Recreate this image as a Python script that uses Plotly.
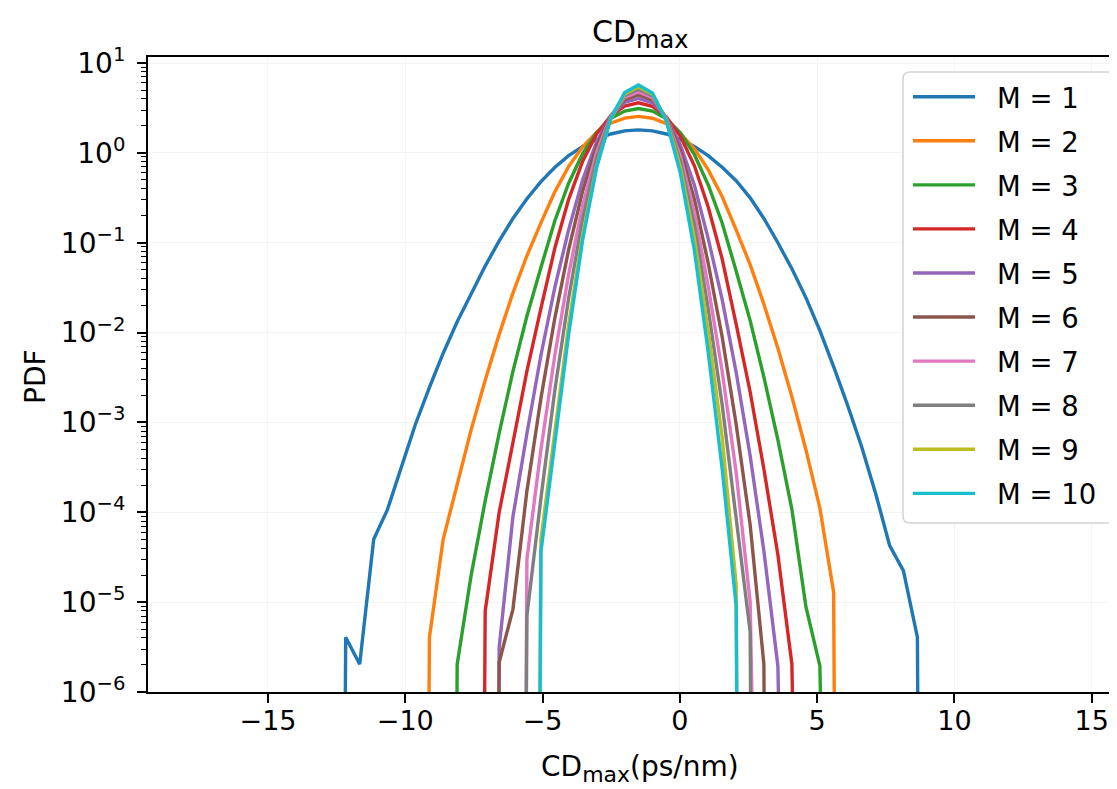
import plotly.graph_objects as go

# bin centres (ps/nm)
x_bins = [-12.68, -12.17, -11.66, -11.15, -10.65, -10.14, -9.63, -9.12, -8.62, -8.11,
          -7.60, -7.09, -6.58, -6.08, -5.57, -5.06, -4.55, -4.05, -3.54, -3.03,
          -2.52, -2.01, -1.51, -1.00, -0.49, 0.02, 0.53, 1.03, 1.54, 2.05,
          2.56, 3.06, 3.57, 4.08, 4.59, 5.10, 5.60, 6.11, 6.62, 7.13,
          7.64, 8.14, 8.65, 9.16]

pdf_m1 = [0, 4.07e-6, 2.04e-6, 5.01e-5, 1.07e-4, 3.31e-4, 9.55e-4, 2.45e-3, 5.89e-3, 1.32e-2,
          2.75e-2, 5.50e-2, 0.105, 0.186, 0.309, 0.479, 0.692, 0.933, 1.175, 1.413,
          1.622, 1.758, 1.803, 1.758, 1.622, 1.413, 1.175, 0.933, 0.692, 0.490,
          0.316, 0.186, 0.100, 5.13e-2, 2.45e-2, 1.05e-2, 4.17e-3, 1.55e-3, 5.37e-4, 1.62e-4,
          4.27e-5, 2.24e-5, 4.07e-6, 0]
pdf_m2 = [0] * 7 + [4.07e-6, 5.01e-5, 2.04e-4, 8.32e-4, 2.95e-3, 9.55e-3, 2.75e-2, 7.16e-2, 0.166, 0.371,
                    0.705, 1.17, 1.69, 2.14, 2.44, 2.55, 2.43, 2.12, 1.64, 1.11,
                    0.650, 0.327, 0.139, 5.70e-2, 2.07e-2, 6.70e-3, 1.93e-3, 4.97e-4, 1.11e-4, 1.29e-5] + [0] * 7
pdf_m3 = [0] * 9 + [2.04e-6, 2.00e-5, 1.34e-4, 7.62e-4, 3.70e-3, 1.53e-2, 5.30e-2, 0.177, 0.460, 0.979,
                    1.69, 2.41, 2.92, 3.12, 2.92, 2.39, 1.67, 0.955, 0.442, 0.166,
                    4.85e-2, 1.36e-2, 3.20e-3, 6.38e-4, 1.08e-4, 8.91e-6, 1.95e-6] + [0] * 8
pdf_m4 = [0] * 11 + [7.94e-6, 1.0e-4, 5.94e-4, 3.72e-3, 1.86e-2, 8.79e-2, 0.304, 0.807, 1.63, 2.58,
                     3.32, 3.61, 3.30, 2.51, 1.53, 0.718, 0.251, 6.61e-2, 1.24e-2, 2.18e-3,
                     3.03e-4, 3.36e-5, 2.04e-6] + [0] * 10
pdf_m5 = [0] * 12 + [3.16e-6, 8.91e-5, 7.52e-4, 5.60e-3, 3.22e-2, 0.140, 0.501, 1.33, 2.55, 3.64,
                     4.03, 3.61, 2.48, 1.23, 0.436, 0.112, 2.34e-2, 3.62e-3, 4.25e-4, 3.70e-5,
                     1.95e-6] + [0] * 11
pdf_m6 = [0] * 12 + [2.14e-6, 8.32e-6, 1.73e-4, 1.86e-3, 1.47e-2, 8.38e-2, 0.376, 1.19, 2.58, 3.92,
                     4.42, 3.88, 2.46, 1.06, 0.304, 5.94e-2, 9.00e-3, 9.53e-4, 7.24e-5, 2.04e-6] + [0] * 12
pdf_m7 = [0] * 14 + [3.02e-5, 4.98e-4, 5.70e-3, 4.44e-2, 0.261, 1.02, 2.53, 4.15, 4.78, 4.11,
                     2.43, 0.920, 0.217, 3.30e-2, 3.72e-3, 2.79e-4, 1.00e-5] + [0] * 13
pdf_m8 = [0] * 14 + [7.08e-6, 1.44e-4, 2.33e-3, 2.43e-2, 0.185, 0.871, 2.47, 4.35, 5.11, 4.32,
                     2.38, 0.796, 0.156, 1.86e-2, 1.58e-3, 8.51e-5, 4.68e-6] + [0] * 13
pdf_m9 = [0] * 15 + [5.01e-5, 8.47e-4, 1.22e-2, 0.123, 0.721, 2.37, 4.51, 5.41, 4.49, 2.32,
                     0.687, 0.112, 1.06e-2, 6.84e-4, 1.58e-5] + [0] * 14
pdf_m10 = [0] * 15 + [3.63e-5, 5.83e-4, 9.59e-3, 0.108, 0.689, 2.40, 4.71, 5.70, 4.65, 2.25,
                      0.594, 8.18e-2, 6.15e-3, 3.07e-4, 9.12e-6] + [0] * 14

series_names = ["M = 1", "M = 2", "M = 3", "M = 4", "M = 5",
                "M = 6", "M = 7", "M = 8", "M = 9", "M = 10"]
series_values = [pdf_m1, pdf_m2, pdf_m3, pdf_m4, pdf_m5,
                 pdf_m6, pdf_m7, pdf_m8, pdf_m9, pdf_m10]
colors = ["#1f77b4", "#ff7f0e", "#2ca02c", "#d62728", "#9467bd",
          "#8c564b", "#e377c2", "#7f7f7f", "#bcbd22", "#17becf"]

x_tick_vals = [-15, -10, -5, 0, 5, 10, 15]
x_tick_text = ["\u221215", "\u221210", "\u22125", "0", "5", "10", "15"]
y_tick_vals = [1e-6, 1e-5, 1e-4, 1e-3, 1e-2, 1e-1, 1, 10]
y_tick_text = ["10<sup>\u22126</sup>", "10<sup>\u22125</sup>", "10<sup>\u22124</sup>",
               "10<sup>\u22123</sup>", "10<sup>\u22122</sup>", "10<sup>\u22121</sup>",
               "10<sup>0</sup>", "10<sup>1</sup>"]

# the page body adds an 8 px offset; screen-space targets below
OFF = 8
W, H = 1117 - OFF, 789 - OFF
L, R, T, B = 148, 1117, 57, 692   # plot area in screenshot pixels
FONT = "DejaVu Sans"


def px(v):
    return (v - L) / (R - L)


def py(v):
    return (B - v) / (B - T)


fig = go.Figure()
FLOOR = 1e-30  # zero bins drawn far below the axis, like a clipped log plot
for name, vals, c in zip(series_names, series_values, colors):
    assert len(vals) == len(x_bins)
    fig.add_trace(go.Scatter(
        x=x_bins, y=[v if v > 0 else FLOOR for v in vals],
        mode="lines", name=name, line=dict(color=c, width=3.4),
        showlegend=False))

shapes = []
annotations = []

# legend box (rounded)
bx0, bx1, by0, by1 = px(903), px(1114), py(523), py(72)
rx, ry = 7 / (R - L), 7 / (B - T)
path = (f"M {bx0+rx},{by0} L {bx1-rx},{by0} Q {bx1},{by0} {bx1},{by0+ry} "
        f"L {bx1},{by1-ry} Q {bx1},{by1} {bx1-rx},{by1} L {bx0+rx},{by1} "
        f"Q {bx0},{by1} {bx0},{by1-ry} L {bx0},{by0+ry} Q {bx0},{by0} {bx0+rx},{by0} Z")
shapes.append(dict(type="path", path=path, xref="paper", yref="paper",
                   line=dict(color="#d4d4d4", width=1.5),
                   fillcolor="rgba(255,255,255,0.85)", layer="above"))
for i, (name, c) in enumerate(zip(series_names, colors)):
    yc = 96.7 + 44.07 * i
    shapes.append(dict(type="line", xref="paper", yref="paper",
                       x0=px(913), x1=px(975), y0=py(yc), y1=py(yc),
                       line=dict(color=c, width=3.4), layer="above"))
    annotations.append(dict(text=name, xref="paper", yref="paper", x=px(995), y=py(yc + 1),
                            xanchor="left", yanchor="middle", showarrow=False,
                            font=dict(family=FONT, size=27.5, color="black")))

annotations.append(dict(text="CD<sub><span style='font-size:24px'>max</span></sub>",
                        xref="paper", yref="paper",
                        x=px(640), y=py(34), xanchor="center", yanchor="middle",
                        showarrow=False, font=dict(family=FONT, size=30, color="black")))
annotations.append(dict(text="CD<sub><span style='font-size:22px'>max</span></sub>(ps/nm)",
                        xref="paper", yref="paper",
                        x=px(640), y=py(768), xanchor="center", yanchor="middle",
                        showarrow=False, font=dict(family=FONT, size=28, color="black")))
annotations.append(dict(text="PDF", xref="paper", yref="paper", textangle=-90,
                        x=px(35), y=py(377), xanchor="center", yanchor="middle",
                        showarrow=False, font=dict(family=FONT, size=28, color="black")))

fig.update_layout(
    width=W, height=H,
    margin=dict(l=L - OFF, r=0, t=T - OFF, b=H - (B - OFF), pad=0),
    paper_bgcolor="white", plot_bgcolor="white",
    font=dict(family=FONT, size=26, color="black"),
    shapes=shapes, annotations=annotations,
    showlegend=False,
)
fig.update_xaxes(
    range=[-19.37, 15.92], tickmode="array",
    tickvals=x_tick_vals, ticktext=x_tick_text,
    showline=True, linecolor="black", linewidth=2, mirror=True,
    ticks="outside", ticklen=9, tickwidth=1.6, tickcolor="black",
    tickfont=dict(family=FONT, size=27), ticklabelstandoff=-5,
    showgrid=True, gridcolor="#f4f4f4", gridwidth=1, zeroline=False,
)
fig.update_yaxes(
    type="log", range=[-6, 1.067], tickmode="array",
    tickvals=y_tick_vals, ticktext=y_tick_text,
    showline=True, linecolor="black", linewidth=2, mirror=False,
    ticks="outside", ticklen=9, tickwidth=1.6, tickcolor="black",
    tickfont=dict(family=FONT, size=28), ticklabelstandoff=6,
    showgrid=True, gridcolor="#f4f4f4", gridwidth=1, zeroline=False,
    minor=dict(ticks="outside", ticklen=5, tickwidth=1.2, tickcolor="black",
               dtick="D1", showgrid=False),
)

fig.write_html("out.html")
